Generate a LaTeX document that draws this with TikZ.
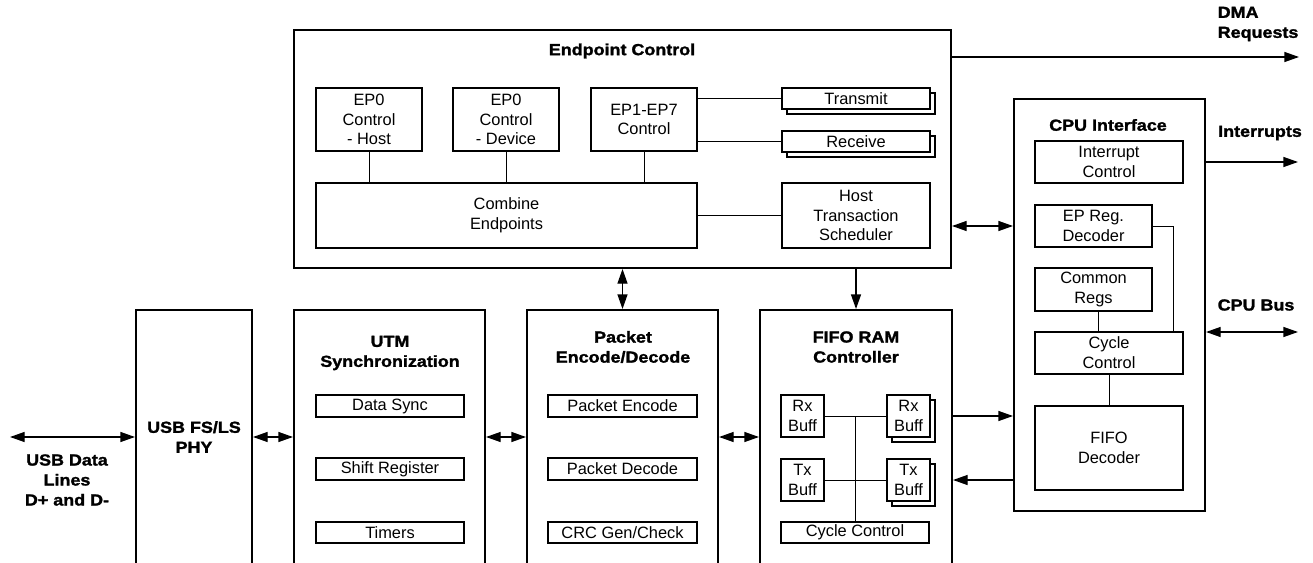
\documentclass[tikz,border=0pt]{standalone}
\usepackage{fontspec}
\setmainfont{Liberation Sans}
\newfontfamily\hdfont[FakeStretch=1.12,FakeBold=1.6]{Liberation Sans Bold}
\usetikzlibrary{
  calc
  , arrows.meta
}

\begin{document}
\begin{tikzpicture}[x=0.75pt, y=-0.75pt,
    % box from its corners, in pixels
    spot/.style n args={4}{minimum width={(#3-#1)*0.75pt},
      minimum height={(#4-#2)*0.75pt}, at={($(#1,#2)!0.5!(#3,#4)$)}},
    box/.style={draw, line width=1.5pt, inner sep=0pt, align=center,
      font=\fontsize{12.3}{14.8}\selectfont},
    stackbox/.style={box, fill=white},
    hd/.style={font=\hdfont\fontsize{12}{15}\selectfont, align=center},
    wire/.style={line width=0.75pt},
    arr/.style={line width=1pt, -{Triangle[length=11pt,width=7.5pt]}},
    darr/.style={line width=1pt,
      {Triangle[length=11pt,width=7.5pt]}-{Triangle[length=11pt,width=7.5pt]}}]
  \useasboundingbox (0,0) rectangle (1313,563);
  \clip (0,0) rectangle (1313,563);

  % endpoint control
  \node [box, spot={294}{30}{951}{268}] (ec) {};
  \node [hd] (ectitle) at (622,51) {Endpoint Control};
  \node [box, spot={316}{88}{422}{151}] (ep0h) {EP0\\Control\\- Host};
  \node [box, spot={453}{88}{559}{151}] (ep0d) {EP0\\Control\\- Device};
  \node [box, spot={591}{88}{697}{151}] (ep17) {EP1-EP7\\Control};
  \node [box, spot={787}{93}{935}{114}] (txsh) {};
  \node [stackbox, spot={782}{88}{930}{109}] (tx) {Transmit};
  \node [box, spot={787}{136}{935}{157}] (rxsh) {};
  \node [stackbox, spot={782}{131}{930}{152}] (rx) {Receive};
  \node [box, spot={316}{183}{697}{248}] (comb) {Combine\\Endpoints};
  \node [box, spot={782}{183}{930}{248}] (hts) {Host\\Transaction\\Scheduler};
  \draw [wire] (ep0h.south) -- (ep0h.south |- comb.north);
  \draw [wire] (ep0d.south) -- (ep0d.south |- comb.north);
  \draw [wire] (ep17.south) -- (ep17.south |- comb.north);
  \draw [wire] (ep17.east |- tx) -- (tx.west);
  \draw [wire] (ep17.east |- rx) -- (rx.west);
  \draw [wire] (comb.east |- hts) -- (hts.west);

  % cpu interface
  \node [box, spot={1014}{99}{1205}{511}] (cpu) {};
  \node [hd] (cputitle) at (1108,125) {CPU Interface};
  \node [box, spot={1035}{141}{1183}{183}] (intc) {Interrupt\\Control};
  \node [box, spot={1035}{205}{1152}{247}] (epreg) {EP Reg.\\Decoder};
  \node [box, spot={1035}{268}{1152}{311}] (regs) {Common\\Regs};
  \node [box, spot={1035}{332}{1183}{374}] (cyc) {Cycle\\Control};
  \node [box, spot={1035}{406}{1183}{490}] (fifod) {FIFO\\Decoder};
  \coordinate (epbend) at (1173,226);
  \draw [wire] (epreg.east) -- (epbend) -- (epbend |- cyc.north);
  \draw [wire] ([xshift=4pt]regs.south) -- ([xshift=4pt]regs.south |- cyc.north);
  \draw [wire] (cyc.south) -- (fifod.north);

  % usb phy
  \node [box, spot={136}{310}{252}{590}] (phy) {};
  \node [hd] (phytitle) at (194,437) {USB FS/LS\\PHY};

  % utm synchronization
  \node [box, spot={294}{310}{485}{590}] (utm) {};
  \node [hd] (utmtitle) at (390,353) {UTM\\Synchronization};
  \node [box, spot={316}{395}{464}{417}] (dsync) {Data Sync};
  \node [box, spot={316}{458}{464}{480}] (shreg) {Shift Register};
  \node [box, spot={316}{522}{464}{543}] (timers) {Timers};

  % packet encode/decode
  \node [box, spot={527}{310}{718}{590}] (pkt) {};
  \node [hd] (pkttitle) at (623,347) {Packet\\Encode/Decode};
  \node [box, spot={548}{395}{697}{417}] (penc) {Packet Encode};
  \node [box, spot={548}{458}{697}{480}] (pdec) {Packet Decode};
  \node [box, spot={548}{522}{697}{543}] (crc) {CRC Gen/Check};

  % fifo ram controller
  \node [box, spot={760}{310}{952}{590}] (fifo) {};
  \node [hd] (fifotitle) at (856,347) {FIFO RAM\\Controller};
  \node [box, spot={781}{395}{824}{437}] (rxl) {Rx\\Buff};
  \node [box, spot={892}{400}{935}{442}] (rxrsh) {};
  \node [stackbox, spot={887}{395}{930}{437}] (rxr) {Rx\\Buff};
  \node [box, spot={781}{459}{824}{501}] (txl) {Tx\\Buff};
  \node [box, spot={892}{464}{935}{506}] (txrsh) {};
  \node [stackbox, spot={887}{459}{930}{501}] (txr) {Tx\\Buff};
  \node [box, spot={781}{522}{929}{543}] (fcyc) {Cycle Control};
  \draw [wire] (rxl.east) -- (rxr.west);
  \draw [wire] (txl.east) -- (txr.west);
  \draw [wire] (fcyc.north |- rxl.east) -- (fcyc.north);

  % signals
  \coordinate (usbend) at (10,437);
  \coordinate (dmaend) at (1299,57);
  \coordinate (intend) at (1298,162);
  \coordinate (busend) at (1298,332);
  \node [hd] (usblbl) at (67,480) {USB Data\\Lines\\D+ and D-};
  \node [hd, anchor=west, align=left] (dmalbl) at (1213,24) {DMA\\Requests};
  \node [hd] (intlbl) at (1260,133) {Interrupts};
  \node [hd, anchor=west] (buslbl) at (1213,305) {CPU Bus};

  \draw [darr] (usbend) -- (usbend -| phy.west);
  \draw [darr] (phy.east |- usbend) -- (utm.west |- usbend);
  \draw [darr] (utm.east |- usbend) -- (pkt.west |- usbend);
  \draw [darr] (pkt.east |- usbend) -- (fifo.west |- usbend);
  \draw [darr] (pkt.north |- ec.south) -- (pkt.north);
  \draw [arr] (fifo.north |- ec.south) -- (fifo.north);
  \draw [darr] (ec.east |- epreg) -- (cpu.west |- epreg);
  \draw [arr] (fifo.east |- rxl) -- (cpu.west |- rxl);
  \draw [arr] (cpu.west |- txl) -- (fifo.east |- txl);
  \draw [arr] (ec.east |- dmaend) -- (dmaend);
  \draw [arr] (cpu.east |- intend) -- (intend);
  \draw [darr] (cpu.east |- busend) -- (busend);
\end{tikzpicture}
\end{document}
